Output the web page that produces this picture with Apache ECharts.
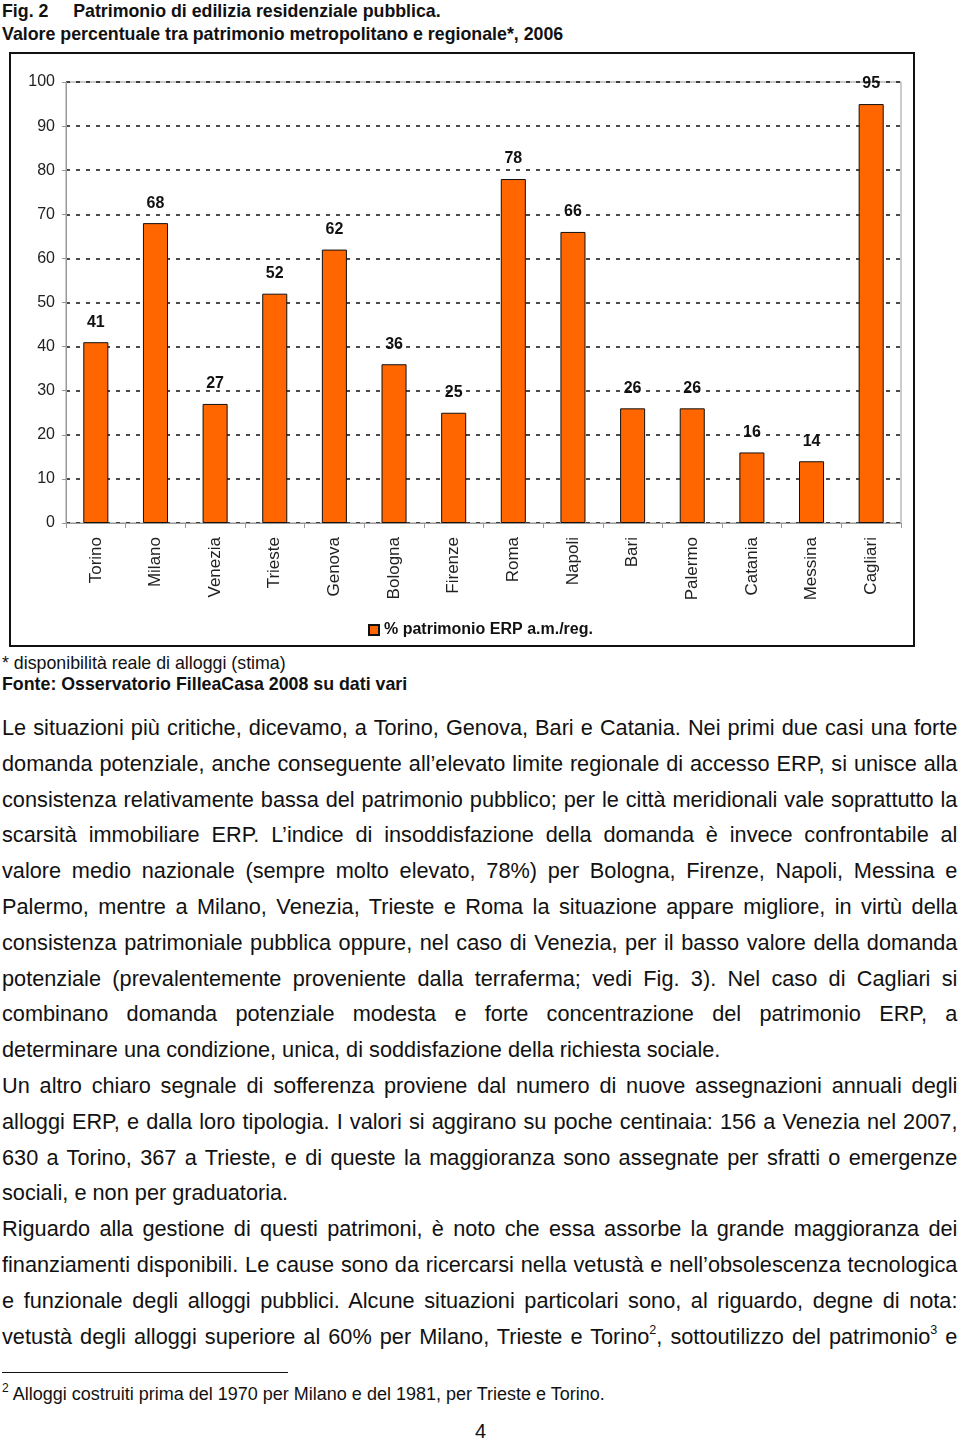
<!DOCTYPE html>
<html><head><meta charset="utf-8">
<script src="https://cdn.jsdelivr.net/npm/echarts@6/dist/echarts.min.js"></script>
<style>
html,body{margin:0;padding:0;background:#fff;width:960px;height:1440px;overflow:hidden;font-family:"Liberation Sans",Arial,Helvetica,sans-serif;color:#111;}
.abs{position:absolute;}
#title{left:2px;top:0px;font-weight:bold;font-size:17.8px;line-height:23px;}
#chart{left:9px;top:52px;width:906px;height:595px;border:2px solid #111;box-sizing:border-box;}
#notes{left:2px;top:653px;font-size:17.8px;line-height:21px;}
#body{left:2px;top:710px;width:985px;font-size:22.4px;line-height:35.8px;transform:scaleX(0.97);transform-origin:0 0;}
#body div{text-align:justify;text-align-last:justify;white-space:nowrap;}
#body div.end{text-align-last:left;}
sup{font-size:13px;line-height:0;vertical-align:10px;}
#fnline{left:2px;top:1372px;width:286px;border-top:1px solid #111;}
#fn{left:2px;top:1384px;font-size:18px;}
#fn sup{font-size:12px;vertical-align:8px;}
#pg{left:475px;top:1420px;font-size:20px;}
</style></head>
<body>
<div id="title" class="abs">Fig. 2&nbsp;&nbsp;&nbsp;&nbsp; Patrimonio di edilizia residenziale pubblica.<br>Valore percentuale tra patrimonio metropolitano e regionale*, 2006</div>
<div id="chart" class="abs"></div>
<div id="notes" class="abs">* disponibilità reale di alloggi (stima)<br><b>Fonte: Osservatorio FilleaCasa 2008 su dati vari</b></div>
<div id="body" class="abs"></div>
<div id="fnline" class="abs"></div>
<div id="fn" class="abs"><sup>2</sup> Alloggi costruiti prima del 1970 per Milano e del 1981, per Trieste e Torino.</div>
<div id="pg" class="abs">4</div>
<script>
const categories = ["Torino","Milano","Venezia","Trieste","Genova","Bologna","Firenze","Roma","Napoli","Bari","Palermo","Catania","Messina","Cagliari"];
const values = [41,68,27,52,62,36,25,78,66,26,26,16,14,95];
const seriesName = "% patrimonio ERP a.m./reg.";
const yTicks = [0,10,20,30,40,50,60,70,80,90,100];

const bodyLines = [
 ["Le situazioni più critiche, dicevamo, a Torino, Genova, Bari e Catania. Nei primi due casi una forte",0],
 ["domanda potenziale, anche conseguente all’elevato limite regionale di accesso ERP, si unisce alla",0],
 ["consistenza relativamente bassa del patrimonio pubblico; per le città meridionali vale soprattutto la",0],
 ["scarsità immobiliare ERP. L’indice di insoddisfazione della domanda è invece confrontabile al",0],
 ["valore medio nazionale (sempre molto elevato, 78%) per Bologna, Firenze, Napoli, Messina e",0],
 ["Palermo, mentre a Milano, Venezia, Trieste e Roma la situazione appare migliore, in virtù della",0],
 ["consistenza patrimoniale pubblica oppure, nel caso di Venezia, per il basso valore della domanda",0],
 ["potenziale (prevalentemente proveniente dalla terraferma; vedi Fig. 3). Nel caso di Cagliari si",0],
 ["combinano domanda potenziale modesta e forte concentrazione del patrimonio ERP, a",0],
 ["determinare una condizione, unica, di soddisfazione della richiesta sociale.",1],
 ["Un altro chiaro segnale di sofferenza proviene dal numero di nuove assegnazioni annuali degli",0],
 ["alloggi ERP, e dalla loro tipologia. I valori si aggirano su poche centinaia: 156 a Venezia nel 2007,",0],
 ["630 a Torino, 367 a Trieste, e di queste la maggioranza sono assegnate per sfratti o emergenze",0],
 ["sociali, e non per graduatoria.",1],
 ["Riguardo alla gestione di questi patrimoni, è noto che essa assorbe la grande maggioranza dei",0],
 ["finanziamenti disponibili. Le cause sono da ricercarsi nella vetustà e nell’obsolescenza tecnologica",0],
 ["e funzionale degli alloggi pubblici. Alcune situazioni particolari sono, al riguardo, degne di nota:",0],
 ["vetustà degli alloggi superiore al 60% per Milano, Trieste e Torino<sup>2</sup>, sottoutilizzo del patrimonio<sup>3</sup> e",0]
];
document.getElementById('body').innerHTML = bodyLines.map(l=>'<div class="'+(l[1]?'end':'')+'">'+l[0]+'</div>').join('');

const chart = echarts.init(document.getElementById('chart'));
chart.setOption({
  animation:false,
  textStyle:{fontFamily:'"Liberation Sans", Arial, sans-serif'},
  grid:{left:55,right:12,top:28,bottom:122,show:true,borderColor:'#999',borderWidth:1},
  legend:{show:true,left:352,top:563,itemWidth:10,itemHeight:10,itemGap:6,
    textStyle:{fontSize:16,fontWeight:'bold',color:'#111'},
    data:[{name:seriesName,icon:'rect'}]},
  xAxis:{type:'category',data:categories,
    axisLine:{lineStyle:{color:'#999'}},
    axisTick:{show:true,interval:0,length:5,lineStyle:{color:'#999'}},
    axisLabel:{rotate:90,interval:0,fontSize:17,color:'#222',margin:14}},
  yAxis:{type:'value',min:0,max:100,interval:10,
    axisLine:{show:true,lineStyle:{color:'#999'}},
    axisTick:{show:true,length:4,lineStyle:{color:'#999'}},
    axisLabel:{fontSize:16,color:'#222',margin:11,formatter:v=>yTicks.includes(v)?String(v):''},
    splitLine:{show:true,lineStyle:{color:'#111',type:[4,6],width:1.5}}},
  series:[{name:seriesName,type:'bar',data:values,barWidth:'42%',
    itemStyle:{color:'#FF6600',borderColor:'#111',borderWidth:1},
    label:{show:true,position:'top',distance:12,fontSize:16,fontWeight:'bold',color:'#111'}}]
});
</script>
</body></html>
